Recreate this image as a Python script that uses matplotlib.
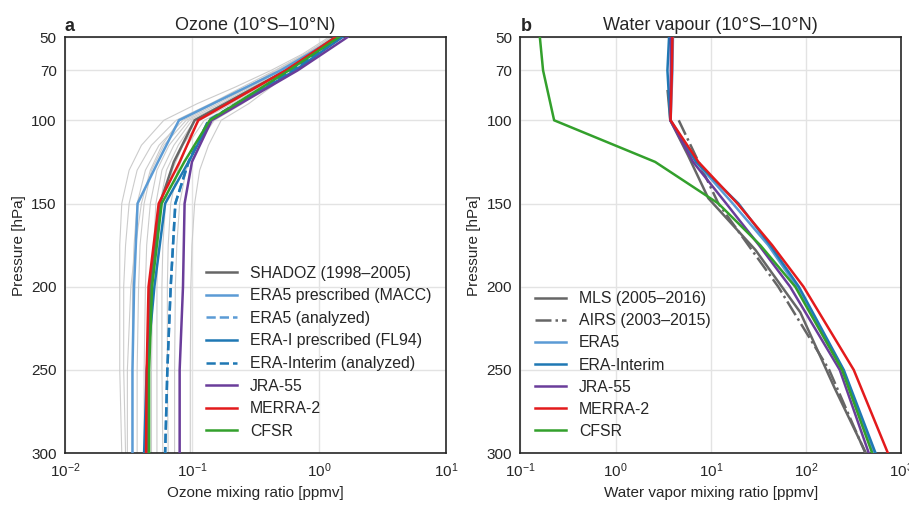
import numpy as np
import matplotlib
matplotlib.use("Agg")
import matplotlib.pyplot as plt
from matplotlib.ticker import LogLocator, LogFormatterSciNotation, FixedLocator, NullLocator

plt.rcParams['font.family'] = ['Liberation Sans', 'DejaVu Sans']
plt.rcParams['mathtext.fontset'] = 'custom'
plt.rcParams['mathtext.rm'] = 'Liberation Sans'
plt.rcParams['mathtext.it'] = 'Liberation Sans:italic'
plt.rcParams['mathtext.bf'] = 'Liberation Sans:bold'

# ---------------- Ozone panel data (ppmv) ----------------
o3_lev = [50, 70, 100, 125, 150, 200, 250, 300]
o3_shadoz = [1.35, 0.55, 0.105, 0.072, 0.056, 0.047, 0.045, 0.044]
o3_era5_macc = [1.40, 0.50, 0.079, 0.054, 0.0373, 0.035, 0.034, 0.034]
o3_era5_an = [1.50, 0.62, 0.135, 0.094, 0.074, 0.068, 0.064, 0.0615]
o3_erai_fl94 = [1.53, 0.65, 0.140, 0.094, 0.0615, 0.0506, 0.044, 0.042]
o3_erai_an = [1.50, 0.62, 0.135, 0.094, 0.074, 0.068, 0.064, 0.0615]
o3_jra55 = [1.68, 0.68, 0.143, 0.100, 0.0875, 0.085, 0.080, 0.080]
o3_merra2 = [1.36, 0.55, 0.112, 0.080, 0.0547, 0.0455, 0.044, 0.0435]
o3_cfsr = [1.44, 0.58, 0.138, 0.087, 0.0578, 0.0485, 0.046, 0.046]

# thin grey individual profiles
grey_lev = [50, 60, 70, 80, 90, 100, 115, 130, 150, 175, 200, 250, 300]
grey_1 = [1.20, 0.75, 0.42, 0.22, 0.11, 0.060, 0.040, 0.032, 0.028, 0.027, 0.027, 0.027, 0.028]
grey_2 = [1.25, 0.78, 0.45, 0.25, 0.14, 0.075, 0.048, 0.037, 0.032, 0.030, 0.029, 0.029, 0.030]
grey_3 = [1.30, 0.80, 0.47, 0.28, 0.16, 0.085, 0.055, 0.043, 0.037, 0.035, 0.034, 0.034, 0.034]
grey_4 = [1.30, 0.82, 0.48, 0.29, 0.17, 0.090, 0.060, 0.048, 0.042, 0.039, 0.038, 0.037, 0.037]
grey_5 = [1.35, 0.85, 0.50, 0.30, 0.18, 0.095, 0.066, 0.053, 0.047, 0.044, 0.043, 0.042, 0.042]
grey_6 = [1.40, 0.87, 0.52, 0.32, 0.19, 0.100, 0.072, 0.058, 0.052, 0.050, 0.049, 0.048, 0.048]
grey_7 = [1.40, 0.88, 0.53, 0.33, 0.20, 0.105, 0.078, 0.063, 0.056, 0.054, 0.053, 0.053, 0.053]
grey_8 = [1.45, 0.90, 0.55, 0.34, 0.21, 0.115, 0.085, 0.070, 0.062, 0.059, 0.058, 0.058, 0.059]
grey_9 = [1.50, 0.93, 0.57, 0.36, 0.23, 0.125, 0.092, 0.077, 0.068, 0.065, 0.064, 0.064, 0.065]
grey_10 = [1.55, 1.00, 0.62, 0.42, 0.28, 0.170, 0.135, 0.115, 0.105, 0.100, 0.098, 0.097, 0.097]
grey_11 = [1.35, 0.90, 0.58, 0.38, 0.25, 0.150, 0.110, 0.090, 0.080, 0.076, 0.074, 0.073, 0.073]
grey_12 = [1.28, 0.80, 0.46, 0.27, 0.15, 0.080, 0.058, 0.047, 0.040, 0.036, 0.033, 0.031, 0.031]
grey_profiles = [grey_1, grey_2, grey_3, grey_4, grey_5, grey_6, grey_7, grey_8,
                 grey_9, grey_10, grey_11, grey_12]

# ---------------- Water vapour panel data (ppmv) ----------------
mls_lev = [82.5, 100, 121, 146.8, 177.8, 215.4, 261, 316]
mls = [3.52, 3.75, 5.75, 9.4, 29.3, 87, 200, 580]
airs_lev = [100, 150, 200, 250, 300, 320]
airs = [4.6, 12.0, 51, 175, 420, 560]
wv_lev = [50, 70, 100, 125, 150, 175, 200, 250, 300]
wv_era5 = [4.0, 3.95, 3.78, 7.0, 17.0, 40, 80, 245, 516]
wv_erai = [3.64, 3.5, 3.75, 7.0, 19.5, 42, 84, 249, 537]
wv_jra55 = [3.8, 3.8, 3.75, 6.5, 14.5, 32, 68, 226, 456]
wv_merra2 = [3.95, 3.9, 3.78, 7.4, 19.0, 44, 94, 317, 724]
wv_cfsr = [0.16, 0.173, 0.226, 2.6, 12.0, 33, 77, 239, 495]

# labels
o3_labels = ['SHADOZ (1998–2005)', 'ERA5 prescribed (MACC)', 'ERA5 (analyzed)',
             'ERA-I prescribed (FL94)', 'ERA-Interim (analyzed)', 'JRA-55', 'MERRA-2', 'CFSR']
wv_labels = ['MLS (2005–2016)', 'AIRS (2003–2015)', 'ERA5', 'ERA-Interim', 'JRA-55', 'MERRA-2', 'CFSR']
p_ticks = [50, 70, 100, 150, 200, 250, 300]

c_obs = '#666666'
c_era5 = '#5b9bd5'
c_erai = '#1f78b4'
c_jra = '#6a3d9a'
c_merra = '#e31a1c'
c_cfsr = '#33a02c'
lw = 1.8

fig = plt.figure(figsize=(9.09, 5.08), dpi=100)
ax1 = fig.add_axes([0.0715, 0.108, 0.419, 0.819])
ax2 = fig.add_axes([0.5725, 0.108, 0.419, 0.819])

for g in grey_profiles:
    ax1.plot(g, grey_lev, color='#cccccc', lw=0.8, zorder=2)
ax1.plot(o3_shadoz, o3_lev, color=c_obs, lw=lw, label=o3_labels[0], zorder=3)
ax1.plot(o3_era5_macc, o3_lev, color=c_era5, lw=lw, label=o3_labels[1], zorder=3)
ax1.plot(o3_era5_an, o3_lev, color=c_era5, lw=lw, ls='--', label=o3_labels[2], zorder=3)
ax1.plot(o3_erai_fl94, o3_lev, color=c_erai, lw=lw, label=o3_labels[3], zorder=3)
ax1.plot(o3_erai_an, o3_lev, color=c_erai, lw=lw, ls='--', label=o3_labels[4], zorder=3)
ax1.plot(o3_jra55, o3_lev, color=c_jra, lw=lw, label=o3_labels[5], zorder=3)
ax1.plot(o3_merra2, o3_lev, color=c_merra, lw=lw, label=o3_labels[6], zorder=3)
ax1.plot(o3_cfsr, o3_lev, color=c_cfsr, lw=lw, label=o3_labels[7], zorder=3)

ax2.plot(mls, mls_lev, color=c_obs, lw=lw, label=wv_labels[0], zorder=3)
ax2.plot(airs, airs_lev, color=c_obs, lw=lw, ls='-.', label=wv_labels[1], zorder=3)
ax2.plot(wv_era5, wv_lev, color=c_era5, lw=lw, label=wv_labels[2], zorder=3)
ax2.plot(wv_erai, wv_lev, color=c_erai, lw=lw, label=wv_labels[3], zorder=3)
ax2.plot(wv_jra55, wv_lev, color=c_jra, lw=lw, label=wv_labels[4], zorder=3)
ax2.plot(wv_merra2, wv_lev, color=c_merra, lw=lw, label=wv_labels[5], zorder=3)
ax2.plot(wv_cfsr, wv_lev, color=c_cfsr, lw=lw, label=wv_labels[6], zorder=3)

for ax, xl, xlab, title, letter in [
        (ax1, (1e-2, 1e1), 'Ozone mixing ratio [ppmv]', 'Ozone (10°S–10°N)', 'a'),
        (ax2, (1e-1, 1e3), 'Water vapor mixing ratio [ppmv]', 'Water vapour (10°S–10°N)', 'b')]:
    ax.set_xscale('log')
    ax.set_xlim(*xl)
    ax.set_ylim(300, 50)
    ax.yaxis.set_major_locator(FixedLocator(p_ticks))
    ax.set_yticklabels([str(p) for p in p_ticks])
    ax.xaxis.set_major_locator(LogLocator(base=10, numticks=10))
    ax.xaxis.set_minor_locator(NullLocator())
    ax.xaxis.set_major_formatter(LogFormatterSciNotation())
    ax.grid(True, color='#e3e3e3', lw=1.0, zorder=0)
    ax.set_axisbelow(True)
    ax.tick_params(axis='both', length=0, labelsize=11, colors='#262626', pad=6)
    for s in ax.spines.values():
        s.set_color('#262626')
        s.set_linewidth(1.2)
    ax.set_xlabel(xlab, fontsize=11, color='#262626')
    ax.set_ylabel('Pressure [hPa]', fontsize=11, color='#262626')
    ax.set_title(title, fontsize=13, color='#262626', pad=5)
    ax.text(0.0, 1.005, letter, transform=ax.transAxes, fontsize=13, fontweight='bold',
            ha='left', va='bottom', color='#262626')

leg1 = ax1.legend(loc='lower right', frameon=False, fontsize=11.4, handlelength=2.0,
                  borderaxespad=0.5, labelspacing=0.48, bbox_to_anchor=(1.0, 0.0))
leg2 = ax2.legend(loc='lower left', frameon=False, fontsize=11.4, handlelength=2.0,
                  borderaxespad=0.5, labelspacing=0.45)
for leg in (leg1, leg2):
    for t in leg.get_texts():
        t.set_color('#262626')

fig.savefig('out.png', dpi=100)
